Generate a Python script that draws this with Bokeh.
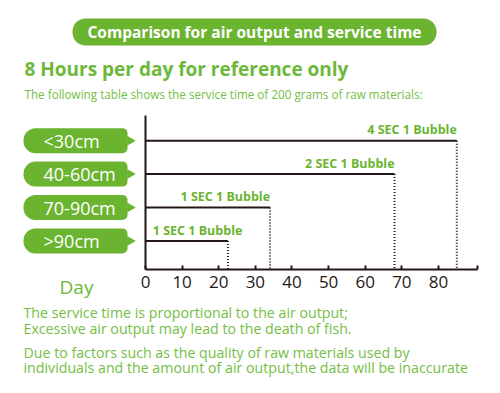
import math
from bokeh.plotting import figure
from bokeh.models import Range1d, LinearAxis, FixedTicker
from bokeh.layouts import column, row
from bokeh.core.properties import value
from bokeh.embed import file_html
from bokeh.resources import INLINE

# ---- data ----
sizes = ["<30cm", "40-60cm", "70-90cm", ">90cm"]
levels = [4, 3, 2, 1]
days = [85, 68, 34, 22.5]
rates = ["4 SEC 1 Bubble", "2 SEC 1 Bubble", "1 SEC 1 Bubble", "1 SEC 1 Bubble"]
tick_values = [0, 10, 20, 30, 40, 50, 60, 70, 80]
tick_labels = ["0", "10", "20", "30", "40", "50", "60", "70", "80"]

title_text = "Comparison for air output and service time"
heading_text = "8 Hours per day for reference only"
sub_text = "The following table shows the service time of 200 grams of raw materials:"
x_label = "Day"
footer_lines = [
    "The service time is proportional to the air output;",
    "Excessive air output may lead to the death of fish.",
    "Due to factors such as the quality of raw materials used by",
    "individuals and the amount of air output,the data will be inaccurate",
]

GREEN = "#6AB42F"
TEXT_GREEN = "#6CB83A"
LIGHT_GREEN = "#74BE45"
DARK = "#231815"
FONT = "Open Sans"


def blank(w, h, xr, yr, **kw):
    f = figure(width=w, height=h, x_range=xr, y_range=yr, output_backend="svg",
               toolbar_location=None, x_axis_type=None, y_axis_type=None, min_border=0, **kw)
    f.outline_line_color = None
    f.xgrid.visible = False
    f.ygrid.visible = False
    return f


# ---------- header (pixel layout space) ----------
head = blank(500, 105, Range1d(0, 500), Range1d(105, 0))
head.rect(x=[254], y=[31.5], width=364, height=27, width_units="screen", height_units="screen",
          fill_color=GREEN, line_color=None, border_radius=13)
head.text(x=[254], y=[31.5], text=[title_text], text_align="center", text_baseline="middle",
          text_font=value(FONT), text_font_style="bold", text_font_size="15.5px", text_color="white")
head.text(x=[24], y=[68], text=[heading_text], text_align="left", text_baseline="middle",
          text_font=value(FONT), text_font_style="bold", text_font_size="19px", text_color=TEXT_GREEN)
head.text(x=[24], y=[93], text=[sub_text], text_align="left", text_baseline="middle",
          text_font=value(FONT), text_font_size="11.7px", text_color=LIGHT_GREEN)

# ---------- chart ----------
PX_PER_DAY = 3.6625
PX_PER_LEVEL = 33.67
Y0 = 0.15                       # level value at the x axis
Y1 = Y0 + 165 / PX_PER_LEVEL    # top of chart frame
X0 = -8 / PX_PER_DAY
X1 = 90.65
BOTTOM = 32                     # px below the axis (tick labels row)
MID_H = 165 + BOTTOM

chart = blank(363, MID_H, Range1d(X0, X1), Range1d(Y0, Y1), min_border_right=23,
              min_border_bottom=BOTTOM)
xa = LinearAxis(ticker=FixedTicker(ticks=tick_values + [X1]))
xa.major_label_overrides = {**{v: l for v, l in zip(tick_values, tick_labels)}, X1: ""}
xa.bounds = (0, X1)
xa.axis_line_color = DARK
xa.axis_line_width = 2
xa.major_tick_in = 4
xa.major_tick_out = 0
xa.minor_tick_in = 0
xa.minor_tick_out = 0
xa.major_tick_line_color = DARK
xa.major_tick_line_width = 2
xa.minor_tick_line_color = None
xa.major_label_text_font = FONT
xa.major_label_text_font_size = "17px"
xa.major_label_text_color = DARK
xa.major_label_standoff = 6
chart.add_layout(xa, "below")

n = len(days)
chart.segment(x0=[0], y0=[Y0], x1=[0], y1=[4.75], line_color=DARK, line_width=2)
chart.segment(x0=[0] * n, y0=levels, x1=days, y1=levels, line_color=DARK, line_width=2)
chart.segment(x0=days, y0=levels, x1=days, y1=[Y0] * n, line_color=DARK,
              line_width=2, line_dash="1 2")

right_idx = [i for i, d in enumerate(days) if d >= 30]
left_idx = [i for i, d in enumerate(days) if d < 30]
chart.text(x=[days[i] for i in right_idx], y=[levels[i] + 0.32 for i in right_idx],
           text=[rates[i] for i in right_idx], text_align="right", text_baseline="middle",
           text_font=value(FONT), text_font_style="bold", text_font_size="12.5px", text_color=GREEN)
chart.text(x=[2 for i in left_idx], y=[levels[i] + 0.32 for i in left_idx],
           text=[rates[i] for i in left_idx], text_align="left", text_baseline="middle",
           text_font=value(FONT), text_font_style="bold", text_font_size="12.5px", text_color=GREEN)

# ---------- left category column (frame aligned with chart frame) ----------
left = blank(137, MID_H, Range1d(0, 137), Range1d(Y0, Y1), min_border_bottom=BOTTOM)
left.rect(x=[75] * 4, y=levels, width=104, height=25, width_units="screen", height_units="screen",
          fill_color=GREEN, line_color=None, border_radius=(12, 5, 5, 12))
left.scatter(x=[129.5] * 4, y=levels, marker="triangle", size=10, angle=-math.pi / 2,
             fill_color=GREEN, line_color=None)
left.text(x=[43] * 4, y=levels, text=sizes, text_align="left", text_baseline="middle",
          text_font=value(FONT), text_font_size="18px", text_color="white")
# "Day" as the label of an axis without line or ticks
da = LinearAxis(ticker=FixedTicker(ticks=[76]))
da.major_label_overrides = {76: x_label}
da.axis_line_color = None
da.major_tick_line_color = None
da.minor_tick_line_color = None
da.major_tick_in = 0
da.major_tick_out = 0
da.minor_tick_in = 0
da.minor_tick_out = 0
da.major_label_text_font = FONT
da.major_label_text_font_size = "19px"
da.major_label_text_color = TEXT_GREEN
da.major_label_standoff = 4
left.add_layout(da, "below")

# ---------- footer (pixel layout space) ----------
FOOT_TOP = 105 + MID_H
foot = blank(500, 393 - FOOT_TOP, Range1d(0, 500), Range1d(393, FOOT_TOP))
foot.text(x=[23] * 4, y=[312, 328, 352, 367], text=footer_lines, text_align="left",
          text_baseline="middle", text_font=value(FONT), text_font_size="14.2px",
          text_color=LIGHT_GREEN)

layout = column(head, row(left, chart), foot)
open("out.html", "w").write(file_html(layout, INLINE))
